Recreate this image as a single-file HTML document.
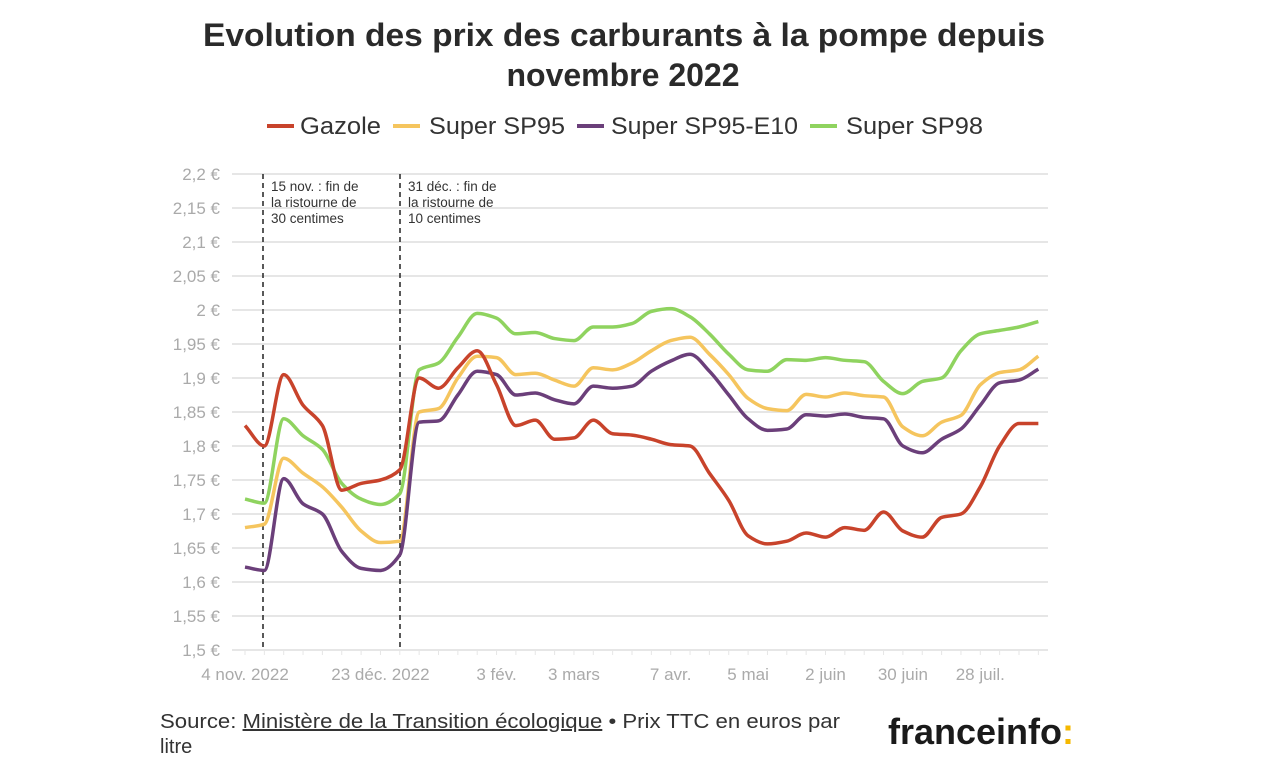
<!DOCTYPE html>
<html><head><meta charset="utf-8"><style>
body{margin:0;background:#fff;width:1280px;height:778px;overflow:hidden;font-family:"Liberation Sans",sans-serif}
</style></head><body>
<svg id="c" width="1280" height="778">
<text x="203" y="46" textLength="842" lengthAdjust="spacingAndGlyphs" font-size="32" font-weight="bold" fill="#2a2a2a">Evolution des prix des carburants à la pompe depuis</text>
<text x="623" y="86" text-anchor="middle" font-size="32" font-weight="bold" fill="#2a2a2a">novembre 2022</text>
<g id="legend" font-size="24" fill="#333"></g>
<g id="grid"></g><g id="lines"></g>
<text x="160" y="728" textLength="680" lengthAdjust="spacingAndGlyphs" font-size="20" fill="#333">Source: <tspan text-decoration="underline">Ministère de la Transition écologique</tspan> • Prix TTC en euros par</text>
<text x="160" y="753" font-size="20" fill="#333">litre</text>
<text x="888" y="744" font-size="36" font-weight="bold" fill="#1a1a1a">franceinfo<tspan fill="#f5b800">:</tspan></text>
</svg>
<script>
const weeksCount=42;
const gazole=[1.83,1.80,1.905,1.86,1.83,1.735,1.745,1.75,1.765,1.90,1.885,1.915,1.94,1.89,1.83,1.838,1.81,1.812,1.838,1.818,1.816,1.81,1.802,1.80,1.76,1.72,1.668,1.656,1.66,1.672,1.666,1.68,1.676,1.703,1.675,1.666,1.695,1.70,1.74,1.80,1.833,1.833];
const sp95=[1.68,1.685,1.782,1.76,1.74,1.71,1.675,1.658,1.66,1.85,1.855,1.90,1.932,1.93,1.905,1.907,1.897,1.888,1.915,1.912,1.922,1.94,1.955,1.96,1.935,1.905,1.87,1.855,1.852,1.876,1.872,1.878,1.874,1.872,1.828,1.815,1.835,1.845,1.89,1.908,1.912,1.932];
const e10=[1.622,1.617,1.752,1.715,1.70,1.645,1.62,1.617,1.64,1.835,1.837,1.875,1.91,1.905,1.875,1.878,1.868,1.862,1.888,1.885,1.888,1.91,1.925,1.935,1.91,1.875,1.84,1.823,1.825,1.846,1.844,1.847,1.842,1.84,1.80,1.79,1.81,1.825,1.86,1.893,1.897,1.913];
const sp98=[1.722,1.716,1.84,1.815,1.795,1.745,1.722,1.714,1.73,1.912,1.922,1.96,1.995,1.988,1.965,1.967,1.958,1.955,1.975,1.975,1.98,1.998,2.002,1.99,1.965,1.935,1.912,1.91,1.927,1.926,1.93,1.926,1.924,1.895,1.877,1.895,1.90,1.94,1.965,1.97,1.975,1.983];
const yTicks=[1.5,1.55,1.6,1.65,1.7,1.75,1.8,1.85,1.9,1.95,2,2.05,2.1,2.15,2.2];
const xLabels=["4 nov. 2022","23 déc. 2022","3 fév.","3 mars","7 avr.","5 mai","2 juin","30 juin","28 juil."];
const xLabelWeeks=[0,7,13,17,22,26,30,34,38];
const seriesNames=["Gazole","Super SP95","Super SP95-E10","Super SP98"];
const colors=["#c8432b","#f5c55e","#6b3f7a","#8fd35f"];
const NS="http://www.w3.org/2000/svg";
const X=w=>245+w*19.35, Y=v=>650-(v-1.5)*680;
function mk(t,a,p){const e=document.createElementNS(NS,t);for(const k in a)e.setAttribute(k,a[k]);p.appendChild(e);return e;}
const grid=document.getElementById('grid');
yTicks.forEach(v=>{
 const l=mk('line',{x1:232,x2:1048,y1:Y(v),y2:Y(v),stroke:'#e6e6e6','stroke-width':2},grid);
 
 
 const t=mk('text',{x:220,y:Y(v)+6,'text-anchor':'end','font-size':17,fill:'#aaa'},grid);
 t.textContent=String(v).replace('.',',')+' €';
 
 
});
xLabels.forEach((s,i)=>{
 const t=mk('text',{x:X(xLabelWeeks[i]),y:680,'text-anchor':'middle','font-size':17,fill:'#aaa'},grid);
 t.textContent=s;
 
 
});
for(let w=0;w<weeksCount;w++){
 const tk=mk('line',{x1:X(w),x2:X(w),y1:650,y2:655,stroke:'#e6e6e6','stroke-width':1},grid);
 
 
}
[[263,["15 nov. : fin de","la ristourne de","30 centimes"]],[400,["31 déc. : fin de","la ristourne de","10 centimes"]]].forEach(([x,ls])=>{
 const l=mk('line',{x1:x,x2:x,y1:174,y2:650,stroke:'#222','stroke-width':1.5,'stroke-dasharray':'5,4'},grid);
 
 
 ls.forEach((s,i)=>{const t=mk('text',{x:x+8,y:191+i*16,'font-size':13.5,fill:'#333'},grid);t.textContent=s;
 
 });
});
function path(vals){
 const n=vals.length,xs=vals.map((v,i)=>X(i)),ys=vals.map(Y);
 const d=[],m=[];
 for(let i=0;i<n-1;i++)d.push((ys[i+1]-ys[i])/(xs[i+1]-xs[i]));
 for(let i=0;i<n;i++){
  if(i==0)m.push(d[0]);else if(i==n-1)m.push(d[n-2]);
  else m.push(d[i-1]*d[i]<=0?0:2/(1/d[i-1]+1/d[i]));
 }
 let s='M'+xs[0]+','+ys[0];
 for(let i=0;i<n-1;i++){const h=(xs[i+1]-xs[i])/3;
  s+=`C${xs[i]+h},${ys[i]+m[i]*h} ${xs[i+1]-h},${ys[i+1]-m[i+1]*h} ${xs[i+1]},${ys[i+1]}`;}
 return s;}
const lines=document.getElementById('lines');
[sp98,sp95,e10,gazole].forEach((s,k)=>{
 const idx=[3,1,2,0][k];
 const p=mk('path',{d:path(s),fill:'none',stroke:colors[idx],'stroke-width':3.5,'stroke-linejoin':'round'},lines);
 
 
});
const lg=document.getElementById('legend');
const lx=[267,393,577,810];
const tx=[300,429,611,846];
const lw=[81,136,187,137];
seriesNames.forEach((n,i)=>{
 const g=mk('g',{},lg);
 
 
 mk('line',{x1:lx[i],x2:lx[i]+27,y1:126,y2:126,stroke:colors[i],'stroke-width':4},g);
 const t=mk('text',{x:tx[i],y:134,textLength:lw[i],lengthAdjust:'spacingAndGlyphs'},g);t.textContent=n;
});
</script>
</body></html>
